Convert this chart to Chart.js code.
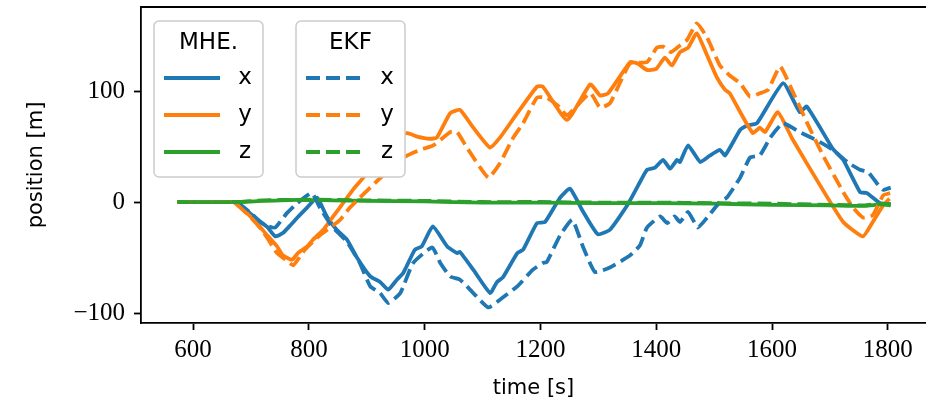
<!DOCTYPE html>
<html>
<head>
<meta charset="utf-8">
<script src="https://cdn.jsdelivr.net/npm/chart.js@4.4.0/dist/chart.umd.min.js"></script>
<style>
  body { margin: 0; background: #fff; }
  #wrap { width: 926px; height: 404px; }
</style>
</head>
<body>
<div id="wrap"><canvas id="grafico" width="926" height="404"></canvas></div>
<script>
// time [s], position [m] pairs
const mheX = [[573,0],[640,0],[672,0],[678,-1],[698,-10],[712,-16],[728,-22.5],[742,-31],[755,-28],[768,-21],[781,-13.5],[797,-5],[814,4],[831,-13],[848,-25],[866,-34],[883,-50],[906,-67],[923,-72],[937,-79],[952,-70],[963,-64],[983,-43],[995,-40],[1014,-22],[1039,-40],[1056,-46],[1061,-45],[1084,-61],[1113,-82],[1125,-72],[1135,-68],[1160,-46],[1170,-43],[1194,-19],[1208,-18],[1234,4],[1251,12],[1274,-9],[1299,-29],[1320,-25],[1350,-3],[1372,18],[1384,29],[1398,31],[1412,38],[1424,30],[1436,38],[1441,36],[1455,51],[1476,36],[1493,42],[1510,47],[1519,42],[1545,65],[1557,69],[1574,71],[1619,107],[1648,81],[1660,86],[1705,48],[1723,38],[1752,9],[1764,8],[1787,-1],[1805,-2]];
const mheY = [[573,0],[668,0],[673,-1],[693,-10],[710,-19],[728,-30],[745,-40],[755,-48],[771,-52],[781,-46],[797,-40],[807,-34],[825,-25],[842,-13],[859,-1],[876,11],[894,22],[915,38],[935,52],[952,60],[970,62],[987,59],[1009,57],[1021,58],[1044,80],[1061,83],[1084,67],[1113,49],[1130,58],[1160,80],[1194,104],[1204,104],[1246,74],[1286,106],[1303,96],[1317,98],[1355,126],[1367,125],[1384,119],[1400,120],[1415,130],[1427,123],[1441,135],[1455,139],[1470,152],[1488,132],[1505,112],[1519,101],[1527,98],[1545,81],[1567,62],[1579,67],[1588,63],[1610,81],[1635,57],[1683,15],[1723,-18],[1757,-31],[1774,-18],[1792,-3],[1803,3]];
const mheZ = [[573,0],[680,0],[720,1],[780,2],[840,1.5],[900,1],[1000,0.5],[1100,-0.5],[1200,-0.5],[1300,-1],[1400,-1],[1500,-1.5],[1600,-2.5],[1700,-3],[1760,-3.5],[1790,-2],[1805,-3]];

const ekfX = [[573,0],[672,0],[680,-2],[700,-10],[716,-18],[730,-22],[742,-23],[762,-10],[780,-1],[805,8],[820,-6],[840,-22],[866,-36],[888,-55],[906,-76],[923,-82],[937,-91],[958,-82],[980,-55],[1013,-41],[1027,-55],[1044,-67],[1061,-70],[1084,-82],[1110,-95],[1130,-88],[1160,-76],[1187,-61],[1204,-55],[1211,-54],[1234,-30],[1255,-16],[1274,-41],[1294,-63],[1320,-59],[1355,-48],[1372,-39],[1384,-23],[1407,-13],[1419,-19],[1432,-13],[1441,-18],[1455,-9],[1472,-23],[1488,-14],[1510,0],[1522,4],[1545,22],[1562,40],[1579,42],[1597,58],[1619,71],[1648,63],[1683,54],[1705,47],[1730,36],[1752,29],[1766,27],[1781,17],[1792,11],[1805,13]];
const ekfY = [[573,0],[668,0],[675,-2],[700,-14],[720,-26],[745,-46],[760,-52],[773,-57],[793,-43],[819,-30],[854,-16],[871,-5],[888,4],[906,13],[930,25],[950,34],[970,42],[992,47],[1015,51],[1044,63],[1056,63],[1073,49],[1110,22],[1130,35],[1153,58],[1170,71],[1194,94],[1211,94],[1234,85],[1246,78],[1286,98],[1303,85],[1320,89],[1337,107],[1355,125],[1384,126],[1401,139],[1412,140],[1425,135],[1436,139],[1453,146],[1470,161],[1488,148],[1510,123],[1527,114],[1545,107],[1562,95],[1579,98],[1593,101],[1614,122],[1631,105],[1660,72],[1688,42],[1723,9],[1740,-5],[1757,-14],[1774,-12],[1792,6],[1804,8]];
const ekfZ = [[573,0],[680,0],[720,1.5],[780,2],[840,2],[900,1.5],[1000,1],[1100,0],[1200,0],[1300,-0.5],[1400,-0.5],[1500,-1],[1600,-1.5],[1700,-2.5],[1760,-3],[1790,-1.5],[1805,-2]];

const seriesLabels = ['x', 'y', 'z'];
const legendTitles = ['MHE.', 'EKF'];
const xTicks = [600, 800, 1000, 1200, 1400, 1600, 1800];
const yTicks = [-100, 0, 100];

const cores = ['#1f77b4', '#ff7f0e', '#2ca02c'];
const traco = [14, 6];

function serie(pts, label, cor, dashed, ordem) {
  return {
    label: label,
    data: pts.map(p => ({ x: p[0], y: p[1] })),
    borderColor: cor,
    borderWidth: 3.8,
    borderDash: dashed ? traco : [],
    borderJoinStyle: 'round',
    pointRadius: 0,
    tension: 0.15,
    fill: false,
    order: ordem
  };
}

const datasets = [
  serie(mheX, seriesLabels[0], cores[0], false, 6),
  serie(mheY, seriesLabels[1], cores[1], false, 5),
  serie(mheZ, seriesLabels[2], cores[2], false, 4),
  serie(ekfX, seriesLabels[0], cores[0], true, 3),
  serie(ekfY, seriesLabels[1], cores[1], true, 2),
  serie(ekfZ, seriesLabels[2], cores[2], true, 1)
];

// two boxed legends + top spine
const legendas = {
  id: 'legendas',
  afterDraw(chart) {
    const ctx = chart.ctx;
    const area = chart.chartArea;
    ctx.save();
    ctx.strokeStyle = '#000';
    ctx.lineWidth = 1.8;
    ctx.beginPath();
    ctx.moveTo(area.left, area.top);
    ctx.lineTo(area.right, area.top);
    ctx.stroke();

    const caixas = [{ x: 154, y: 21 }, { x: 296, y: 21 }];
    caixas.forEach((c, g) => {
      const w = 109, h = 156, r = 5;
      ctx.beginPath();
      ctx.roundRect(c.x, c.y, w, h, r);
      ctx.fillStyle = '#ffffff';
      ctx.fill();
      ctx.lineWidth = 1.5;
      ctx.strokeStyle = '#cccccc';
      ctx.stroke();

      ctx.fillStyle = '#000';
      ctx.font = '23px "DejaVu Sans"';
      ctx.textAlign = 'center';
      ctx.textBaseline = 'middle';
      ctx.fillText(legendTitles[g], c.x + w / 2, c.y + 22);

      for (let i = 0; i < 3; i++) {
        const ds = chart.data.datasets[g * 3 + i];
        const yy = c.y + 57 + i * 37;
        ctx.beginPath();
        ctx.setLineDash(ds.borderDash);
        ctx.lineWidth = ds.borderWidth;
        ctx.strokeStyle = ds.borderColor;
        ctx.moveTo(c.x + 10, yy);
        ctx.lineTo(c.x + 66, yy);
        ctx.stroke();
        ctx.setLineDash([]);
        ctx.fillStyle = '#000';
        ctx.fillText(ds.label, c.x + 91, yy);
      }
    });
    ctx.restore();
  }
};

const fmt = v => (v < 0 ? '\u2212' + Math.abs(v) : String(v));

const ctx = document.getElementById('grafico').getContext('2d');
new Chart(ctx, {
  type: 'line',
  data: { datasets: datasets },
  options: {
    responsive: false,
    animation: false,
    devicePixelRatio: 1,
    layout: { padding: { top: 7, left: 0, right: 0, bottom: 0 } },
    plugins: { legend: { display: false }, tooltip: { enabled: false } },
    scales: {
      x: {
        type: 'linear',
        min: 510,
        max: 1866,
        afterBuildTicks: s => { s.ticks = xTicks.map(v => ({ value: v })); },
        afterFit: s => { s.height = 81; s.paddingLeft = 0; s.paddingRight = 0; },
        grid: { display: true, drawOnChartArea: false, drawTicks: true, tickLength: 7, tickWidth: 1.8, color: '#000' },
        border: { display: true, color: '#000', width: 1.8 },
        ticks: { color: '#000', font: { family: '"Liberation Serif"', size: 25 }, padding: 5, maxRotation: 0, callback: fmt },
        title: { display: true, text: 'time [s]', color: '#000', font: { family: '"DejaVu Sans"', size: 21 }, padding: { top: 0, bottom: 3 } }
      },
      y: {
        type: 'linear',
        min: -109,
        max: 175.7,
        afterBuildTicks: s => { s.ticks = yTicks.map(v => ({ value: v })); },
        afterFit: s => { s.width = 141; s.paddingTop = 0; s.paddingBottom = 0; },
        grid: { display: true, drawOnChartArea: false, drawTicks: true, tickLength: 7, tickWidth: 1.8, color: '#000' },
        border: { display: true, color: '#000', width: 1.8 },
        ticks: { color: '#000', font: { family: '"Liberation Serif"', size: 25 }, padding: 9, callback: fmt },
        title: { display: true, text: 'position [m]', color: '#000', font: { family: '"DejaVu Sans"', size: 21 }, padding: { top: 24, bottom: 0 } }
      }
    }
  },
  plugins: [legendas]
});
</script>
</body>
</html>
